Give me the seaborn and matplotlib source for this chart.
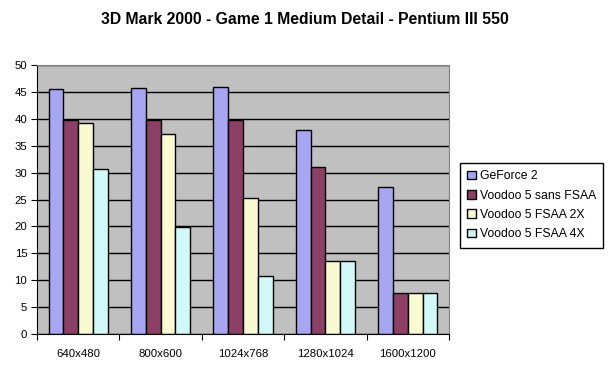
import pandas as pd
import numpy as np
import matplotlib.pyplot as plt
import seaborn as sns

resolutions = ['640x480', '800x600', '1024x768', '1280x1024', '1600x1200']
cards = ['GeForce 2', 'Voodoo 5 sans FSAA', 'Voodoo 5 FSAA 2X', 'Voodoo 5 FSAA 4X']
geforce2 = [45.5, 45.7, 45.9, 37.9, 27.3]
voodoo_nofsaa = [39.8, 39.8, 39.8, 31.0, 7.6]
voodoo_2x = [39.2, 37.1, 25.2, 13.5, 7.6]
voodoo_4x = [30.6, 19.9, 10.7, 13.5, 7.6]
colors = ['#9999FF', '#993366', '#FFFFCC', '#CCFFFF']

df = pd.DataFrame({'Resolution': resolutions * 4,
                   'Card': np.repeat(cards, len(resolutions)),
                   'Score': geforce2 + voodoo_nofsaa + voodoo_2x + voodoo_4x})

plt.rcParams['font.family'] = ['Liberation Sans', 'DejaVu Sans']
fig = plt.figure(figsize=(6.1, 3.76), dpi=100)
ax = fig.add_axes([37/610, 1 - 334/376, 412/610, 269/376])
ax.set_facecolor('#C0C0C0')

sns.barplot(data=df, x='Resolution', y='Score', hue='Card', palette=colors,
            edgecolor='black', linewidth=1, width=0.72, ax=ax, legend=True)

ax.set_axisbelow(True)
ax.yaxis.grid(True, color='black', linewidth=1)
ax.set_ylim(0, 50)
ax.set_yticks(np.arange(0, 51, 5))
ax.set_xlim(-0.5, 4.5)
ax.set_xlabel('')
ax.set_ylabel('')

# excel style: tick marks between categories, labels in the middle
ax.set_xticks(np.arange(-0.5, 5, 1))
ax.set_xticklabels([])
ax.set_xticks(np.arange(5), minor=True)
ax.set_xticklabels(resolutions, minor=True)
ax.tick_params(axis='x', which='minor', length=0, pad=11, labelsize=8.2)
ax.tick_params(axis='x', which='major', length=4, direction='out', color='black')
ax.tick_params(axis='y', length=4, direction='out', labelsize=8.2, pad=3)

for s in ['left', 'bottom']:
    ax.spines[s].set_color('black')
for s in ['top', 'right']:
    ax.spines[s].set_color('#808080')

h, l = ax.get_legend_handles_labels()
ax.legend(h, l, loc='upper left', bbox_to_anchor=(460/610, 1 - 163/376),
          bbox_transform=fig.transFigure, fontsize=8.8, frameon=True,
          fancybox=False, edgecolor='black', framealpha=1, borderaxespad=0,
          handlelength=0.7, handleheight=0.7, handletextpad=0.3,
          labelspacing=0.6, borderpad=0.6)

fig.suptitle('3D Mark 2000 - Game 1 Medium Detail - Pentium III 550',
             fontsize=11.3, fontweight='bold', y=1 - 12/376, va='top')

fig.savefig('out.png', dpi=100, facecolor='white')
